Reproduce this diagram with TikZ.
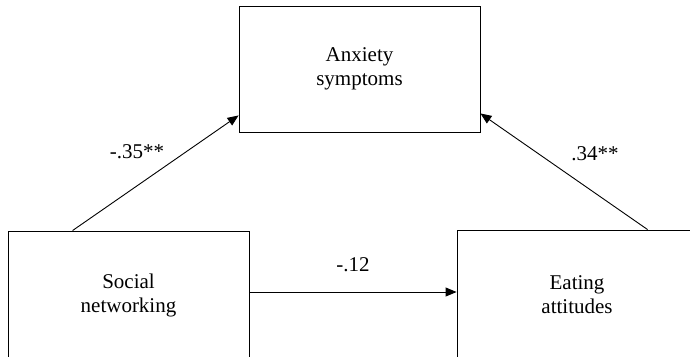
\documentclass[tikz,border=0pt]{standalone}
\usepackage{fontspec}
\setmainfont{Liberation Serif}
\usetikzlibrary{arrows.meta}
\begin{document}
\begin{tikzpicture}[x=1pt,y=-1pt,
  box/.style={draw, line width=0.9pt, rectangle, inner sep=0pt, align=center, font=\fontsize{21}{24}\selectfont},
  lab/.style={font=\fontsize{21}{24}\selectfont, inner sep=0pt},
  conn/.style={line width=0.9pt, -{Triangle[length=11pt,width=9pt]}}]
\useasboundingbox (0,0) rectangle (690,356);
\clip (0,0) rectangle (690,356);
\node[box, minimum width=241pt, minimum height=126pt] (as) at (359.5,69) {Anxiety\\symptoms};
\node[box, minimum width=241pt, minimum height=128pt] (sn) at (128.5,295) {Social\\networking};
\node[box, minimum width=240pt, minimum height=130pt] (ea) at (577,295) {Eating\\attitudes};
\draw[conn] ([xshift=65pt]sn.north west) -- ([yshift=17pt]as.south west);
\draw[conn] ([xshift=191pt]ea.north west) -- ([yshift=19pt]as.south east);
\draw[conn] ([yshift=3pt]sn.east) -- ([yshift=3pt]ea.west);
\node[lab] (l1) at (137,152) {-.35**};
\node[lab] (l2) at (595,154) {.34**};
\node[lab] (l3) at (353,265) {-.12};
\end{tikzpicture}
\end{document}
